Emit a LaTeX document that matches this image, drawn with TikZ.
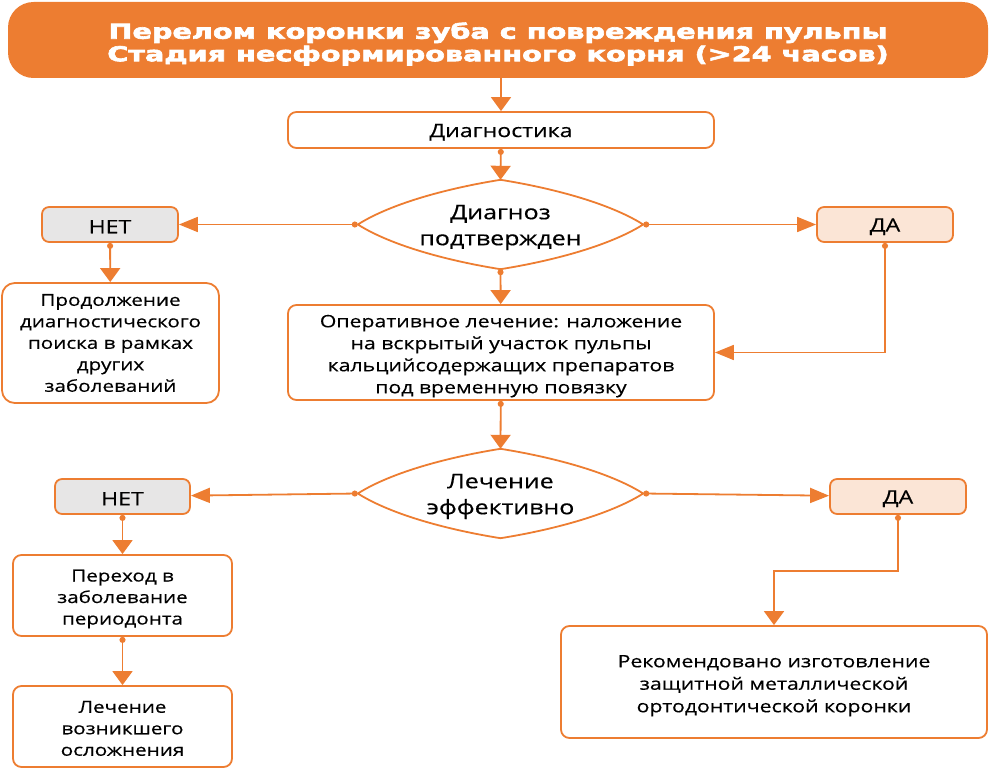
\documentclass[tikz,border=0pt]{standalone}
\usepackage{fontspec}
\setmainfont{Open Sans}[FakeStretch=1.25,FakeBold=0.4]
\newfontfamily\headfont{DejaVu Sans}[FakeStretch=1.4,BoldFeatures={FakeBold=3}]
\usetikzlibrary{arrows.meta}
\definecolor{myorange}{HTML}{ED7D31}
\definecolor{mygray}{HTML}{E7E6E6}
\definecolor{mypeach}{HTML}{FBE5D6}
\def\tiph{Triangle[length=19pt,width=15pt]} % horizontal arrows
\def\tipv{Triangle[length=14pt,width=20pt]} % vertical arrows
\def\mystrut{\rule{0pt}{1.15em}}
\def\lowstrut{\rule{0pt}{0.95em}}
\tikzset{
my line/.style={draw=myorange,line width=1.8pt}, % all lines orange
my size/.style 2 args={minimum width=#1,minimum height=#2},
my node/.style={rectangle,inner sep=0pt,align=center},
my box/.style={my node,my line,rounded corners=3mm,fill=white,
  font=\fontsize{16.5}{21.5}\selectfont},
my head/.style={my node,fill=myorange,rounded corners=9mm},
head text/.style={my node,text=white,
  font=\headfont\bfseries\fontsize{20.5}{22.5}\selectfont},
my answer/.style={my node,my line,rounded corners=2.5mm,
  font=\fontsize{18.5}{22}\selectfont},
no/.style={my answer,fill=mygray},
yes/.style={my answer,fill=mypeach},
my choice/.style={my node,font=\fontsize{20}{26}\selectfont},
down/.style={my line,{Circle[length=6pt]}-{\tipv}},
side/.style={my line,{Circle[length=6pt]}-{\tiph}},
}
\begin{document}
\begin{tikzpicture}[x=1pt,y=-1pt]
\useasboundingbox (0,0) rectangle (991,770);
% nodes
\node[my head,my size={980pt}{76pt}] (head) at (498,40) {};
\node[head text] (title) at ([yshift=-4pt]head.center)
  {Перелом коронки зуба с повреждения пульпы\\
   Стадия несформированного корня (>24 часов)};
\node[my box,font=\fontsize{18.5}{22}\selectfont,my size={426pt}{36pt}] (diag) at (501,130) {\lowstrut Диагностика};
\node[my choice,my size={285pt}{89pt}] (conf) at (500.5,224.5) {};
\node[no,my size={136pt}{35pt}] (no1) at (110,224.5) {\lowstrut НЕТ};
\node[yes,my size={136pt}{35pt}] (yes1) at (885,224.5) {\lowstrut ДА};
\node[my box,rounded corners=4.5mm,my size={217pt}{120pt}] (search) at (110.5,343)
  {Продолжение\\диагностического\\поиска в рамках\\других\\заболеваний};
\node[my box,font=\fontsize{17}{22}\selectfont,my size={426pt}{95pt}] (oper) at (501,352.5)
  {\mystrut Оперативное лечение: наложение\\на вскрытый участок пульпы\\
   кальцийсодержащих препаратов\\под временную\ повязку};
\node[my choice,my size={285pt}{89pt}] (eff) at (500.5,493.5) {};
\node[no,my size={135pt}{35pt}] (no2) at (122.5,496.5) {\lowstrut НЕТ};
\node[yes,my size={136pt}{35pt}] (yes2) at (898,496.5) {\lowstrut ДА};
\node[my box,my size={219pt}{81pt}] (perio) at (122.5,595.5)
  {\mystrut Переход в\\заболевание\\периодонта};
\node[my box,my size={219pt}{81pt}] (compl) at (122.5,726.5)
  {\lowstrut Лечение\\возникшего\\осложнения};
\node[my box,font=\fontsize{17}{22.5}\selectfont,my size={426pt}{112pt}] (crown) at (774,682)
  {\mystrut Рекомендовано изготовление\\защитной металлической\\ортодонтической коронки};
% diamond outlines
\foreach \d in {conf,eff}
  \draw[my line,fill=white]
    (\d.west) .. controls +(35,-22) and +(-50,8) .. (\d.north)
    .. controls +(50,8) and +(-35,-22) .. (\d.east)
    .. controls +(-35,22) and +(50,-8) .. (\d.south)
    .. controls +(-50,-8) and +(35,22) .. (\d.west);
\node[my choice] (conftext) at ([yshift=-3pt]conf.center) {Диагноз\\подтвержден};
\node[my choice] (efftext) at ([yshift=-3pt]eff.center) {Лечение\\эффективно};
% connectors
\draw[my line,-{\tipv}] (head.south -| diag.north) -- (diag.north);
\draw[down] (diag) -- (conf.north);
\draw[side] (conf.west) -- (no1);
\draw[side] (conf.east) -- (yes1);
\draw[down] (conf.south) -- (oper);
\draw[down] (no1) -- (search);
\draw[side] (yes1.south) |- (oper.east);
\draw[down] (oper) -- (eff.north);
\draw[side] (eff.west) -- (no2);
\draw[side] (eff.east) -- (yes2);
\draw[down] (no2) -- (perio);
\draw[down] (perio) -- (compl);
\draw[down] (yes2.south) -- ++(0,56) -| (crown.north);
\end{tikzpicture}
\end{document}
